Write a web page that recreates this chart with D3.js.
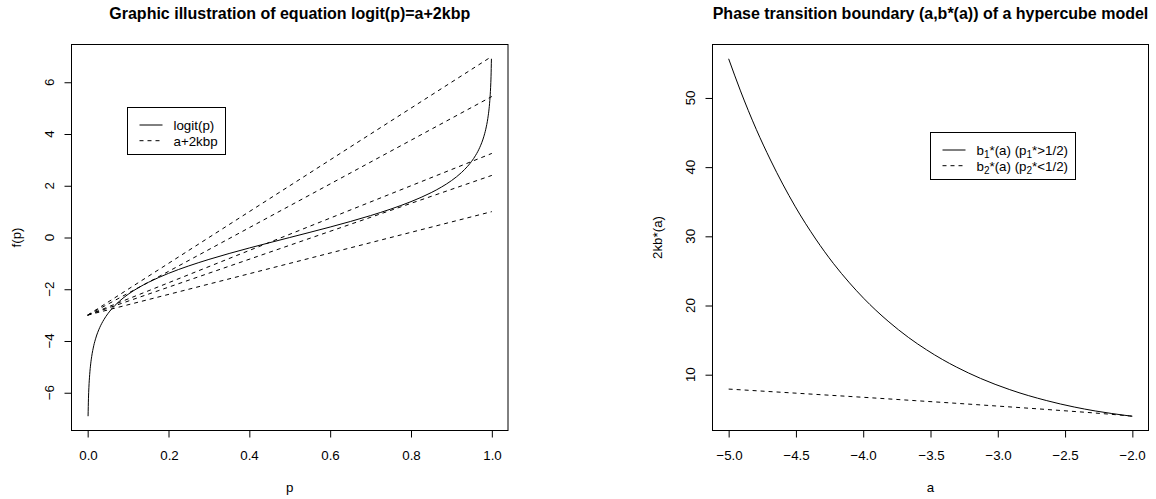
<!DOCTYPE html>
<html>
<head>
<meta charset="utf-8">
<script src="https://cdn.jsdelivr.net/npm/d3@7"></script>
<style>
  body { margin: 0; background: #fff; }
  svg { display: block; font-family: "Liberation Sans", Arial, sans-serif; }
</style>
</head>
<body>
<svg id="chart" width="1156" height="499"></svg>
<script>
// left panel: logit curve
var pVals = [0.001, 0.002, 0.003, 0.005, 0.0075, 0.01, 0.015, 0.02, 0.03, 0.04, 0.05, 0.06, 0.075, 0.1,
  0.125, 0.15, 0.175, 0.2, 0.25, 0.3, 0.35, 0.4, 0.45, 0.5, 0.55, 0.6, 0.65, 0.7, 0.75, 0.8, 0.825, 0.85,
  0.875, 0.9, 0.925, 0.94, 0.95, 0.96, 0.97, 0.98, 0.985, 0.99, 0.9925, 0.995, 0.997, 0.998, 0.999]
var logitVals = [-6.907, -6.213, -5.806, -5.293, -4.885, -4.595, -4.185, -3.892, -3.476, -3.178, -2.944, -2.752, -2.512, -2.197,
  -1.946, -1.735, -1.551, -1.386, -1.099, -0.847, -0.619, -0.405, -0.201, 0, 0.201, 0.405, 0.619, 0.847, 1.099, 1.386, 1.551, 1.735,
  1.946, 2.197, 2.512, 2.752, 2.944, 3.178, 3.476, 3.892, 4.185, 4.595, 4.885, 5.293, 5.806, 6.213, 6.907]
// dashed lines a + 2kb*p, a = -3
var lineA = -3
var lineSlopes = [10, 8.45, 6.25, 5.4, 4]
var lineP = [0, 1]
var pTicks = [0, 0.2, 0.4, 0.6, 0.8, 1]
var fTicks = [-6, -4, -2, 0, 2, 4, 6]

// right panel: boundary curves
var a1 = [-5.0, -4.912, -4.795, -4.689, -4.507, -4.353, -4.220, -4.102, -3.997, -3.815, -3.662, -3.529, -3.4125, -3.308,
  -3.129, -2.911, -2.636, -2.432, -2.276, -2.157, -2.072, -2.019, -2.0]
var b1 = [55.66, 51.02, 45.47, 41.03, 34.36, 29.61, 26.04, 23.27, 21.05, 17.73, 15.36, 13.59, 12.21, 11.11,
  9.47, 7.84, 6.25, 5.33, 4.76, 4.40, 4.17, 4.04, 4.0]
var a2 = [-5.0, -4.592, -4.297, -4.039, -3.614, -3.280, -3.014, -2.901, -2.486, -2.238, -2.0945, -2.0215, -2.0]
var b2 = [7.92, 7.44, 7.087, 6.78, 6.25, 5.83, 5.48, 5.33, 4.76, 4.40, 4.17, 4.04, 4.0]
var aTicks = [-5, -4.5, -4, -3.5, -3, -2.5, -2]
var bTicks = [10, 20, 30, 40, 50]

var svg = d3.select('#chart')
var plotTop = 44.5, plotBottom = 430.5
var fs = 13.33

function pad(ext) {
  var d = (ext[1] - ext[0]) * 0.04
  return [ext[0] - d, ext[1] + d]
}
function minus(v, fmt) {
  return fmt(v).replace('-', '\u2212')
}

function panel(opt) {
  var x = d3.scaleLinear().domain(pad(opt.xExt)).range([opt.x0, opt.x1])
  var y = d3.scaleLinear().domain(pad(opt.yExt)).range([plotBottom, plotTop])
  var g = svg.append('g')

  g.append('text').attr('x', (opt.x0 + opt.x1) / 2).attr('y', 19)
    .attr('text-anchor', 'middle').attr('font-weight', 'bold').attr('font-size', 16)
    .text(opt.title)

  // x axis
  g.append('g').attr('transform', 'translate(0,' + plotBottom + ')')
    .call(d3.axisBottom(x).tickValues(opt.xTicks).tickSize(7).tickFormat(''))
    .call(function (s) { s.select('.domain').remove() })
  g.selectAll('.xl').data(opt.xTicks).enter().append('text')
    .attr('x', function (d) { return Math.round(x(d)) + 0.5 }).attr('y', 460)
    .attr('text-anchor', 'middle').attr('font-size', fs)
    .text(function (d) { return minus(d, opt.xFmt) })
  g.append('text').attr('x', (opt.x0 + opt.x1) / 2).attr('y', 492)
    .attr('text-anchor', 'middle').attr('font-size', fs).text(opt.xLabel)

  // y axis
  g.append('g').attr('transform', 'translate(' + opt.x0 + ',0)')
    .call(d3.axisLeft(y).tickValues(opt.yTicks).tickSize(7).tickFormat(''))
    .call(function (s) { s.select('.domain').remove() })
  g.selectAll('.yl').data(opt.yTicks).enter().append('text')
    .attr('transform', function (d) { return 'translate(' + (opt.x0 - 18) + ',' + y(d) + ') rotate(-90)' })
    .attr('text-anchor', 'middle').attr('font-size', fs)
    .text(function (d) { return minus(d, opt.yFmt) })
  g.append('text')
    .attr('transform', 'translate(' + (opt.x0 - 51) + ',' + (plotTop + plotBottom) / 2 + ') rotate(-90)')
    .attr('text-anchor', 'middle').attr('font-size', fs).text(opt.yLabel)

  g.append('rect').attr('x', opt.x0).attr('y', plotTop)
    .attr('width', opt.x1 - opt.x0).attr('height', plotBottom - plotTop)
    .attr('fill', 'none').attr('stroke', '#000')

  g.selectAll('.tick line').attr('stroke', '#000')
  return { g: g, x: x, y: y }
}

var L = panel({
  x0: 71.5, x1: 508, xExt: [0, 1], yExt: d3.extent(logitVals),
  xTicks: pTicks, yTicks: fTicks, xFmt: d3.format('.1f'), yFmt: d3.format('d'),
  title: 'Graphic illustration of equation logit(p)=a+2kbp', xLabel: 'p', yLabel: 'f(p)'
})

var logitLine = d3.line().curve(d3.curveMonotoneX)
  .x(function (d, i) { return L.x(pVals[i]) })
  .y(function (d) { return L.y(d) })
L.g.append('path').datum(logitVals).attr('d', logitLine)
  .attr('fill', 'none').attr('stroke', '#000')

L.g.selectAll('.dl').data(lineSlopes).enter().append('path')
  .attr('d', function (s) {
    return d3.line()(lineP.map(function (p) { return [L.x(p), L.y(lineA + s * p)] }))
  })
  .attr('fill', 'none').attr('stroke', '#000').attr('stroke-dasharray', '4,4')

var R = panel({
  x0: 712.5, x1: 1148.5, xExt: d3.extent(a1), yExt: d3.extent(b1.concat(b2)),
  xTicks: aTicks, yTicks: bTicks, xFmt: d3.format('.1f'), yFmt: d3.format('d'),
  title: 'Phase transition boundary (a,b*(a)) of a hypercube model', xLabel: 'a', yLabel: '2kb*(a)'
})

function curve(as, bs) {
  return d3.line().curve(d3.curveMonotoneX)
    .x(function (d, i) { return R.x(as[i]) })
    .y(function (d) { return R.y(d) })(bs)
}
R.g.append('path').attr('d', curve(a1, b1)).attr('fill', 'none').attr('stroke', '#000')
R.g.append('path').attr('d', curve(a2, b2)).attr('fill', 'none').attr('stroke', '#000')
  .attr('stroke-dasharray', '4,4')

// legends
function legend(x, y, w, h, rows) {
  var g = svg.append('g')
  g.append('rect').attr('x', x).attr('y', y).attr('width', w).attr('height', h)
    .attr('fill', '#fff').attr('stroke', '#000')
  rows.forEach(function (r, i) {
    var cy = y + 17.5 + i * 15.7
    g.append('line').attr('x1', x + 12).attr('x2', x + 35).attr('y1', cy).attr('y2', cy)
      .attr('stroke', '#000').attr('stroke-dasharray', r.dash ? '4,4' : null)
    var t = g.append('text').attr('x', x + 46).attr('y', cy + 4.8).attr('font-size', fs)
    var shift = 0
    r.parts.forEach(function (p) {
      if (typeof p === 'string') {
        t.append('tspan').attr('dy', shift).text(p)
        shift = 0
      } else {
        t.append('tspan').attr('dy', 3).attr('font-size', 10).text(p.sub)
        shift = -3
      }
    })
  })
}
legend(127.5, 107.5, 98, 47, [
  { dash: false, parts: ['logit(p)'] },
  { dash: true, parts: ['a+2kbp'] }
])
legend(930.5, 132.5, 145, 47, [
  { dash: false, parts: ['b', { sub: '1' }, '*(a) (p', { sub: '1' }, '*>1/2)'] },
  { dash: true, parts: ['b', { sub: '2' }, '*(a) (p', { sub: '2' }, '*<1/2)'] }
])
</script>
</body>
</html>
